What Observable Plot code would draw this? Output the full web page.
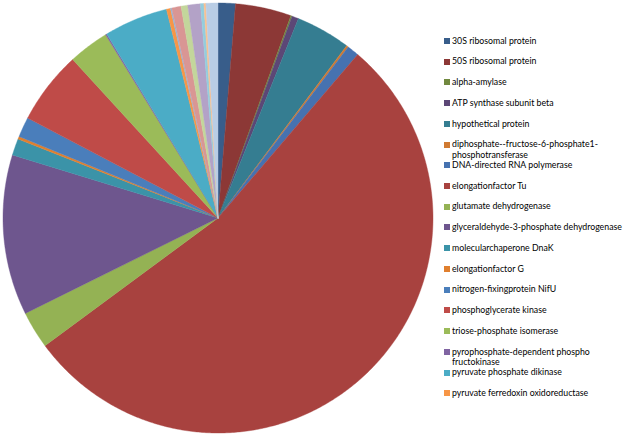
<!DOCTYPE html>
<html>
<head>
<meta charset="utf-8">
<script src="https://cdn.jsdelivr.net/npm/d3@7"></script>
<script src="https://cdn.jsdelivr.net/npm/@observablehq/plot@0.6"></script>
<style>
  html, body { margin: 0; padding: 0; background: #fff; }
  #wrap { position: relative; width: 625px; height: 436px; overflow: hidden; }
  #legend { position: absolute; left: 0; top: 0; font-family: Lato, "Open Sans", sans-serif; color: #000; }
  .item { position: absolute; left: 444px; white-space: nowrap; }
  .sw { position: absolute; left: 0; width: 6px; height: 6px; }
  .lab { position: absolute; left: 8px; top: 0; line-height: 10.6px; }
</style>
</head>
<body>
<div id="wrap"><div id="legend"></div></div>
<script>
// Slice names in drawing order (clockwise from 12 o'clock)
const categories = [
  "30S ribosomal protein",
  "50S ribosomal protein",
  "alpha-amylase",
  "ATP synthase subunit beta",
  "hypothetical protein",
  "diphosphate--fructose-6-phosphate1-phosphotransferase",
  "DNA-directed RNA polymerase",
  "elongationfactor Tu",
  "glutamate dehydrogenase",
  "glyceraldehyde-3-phosphate dehydrogenase",
  "molecularchaperone DnaK",
  "elongationfactor G",
  "nitrogen-fixingprotein NifU",
  "phosphoglycerate kinase",
  "triose-phosphate isomerase",
  "pyrophosphate-dependent phospho fructokinase",
  "pyruvate phosphate dikinase",
  "pyruvate ferredoxin oxidoreductase",
  "item 19", "item 20", "item 21", "item 22", "item 23", "item 24", "item 25"
];
// Estimated shares (%)
const values = [
  1.3, 4.2, 0.1, 0.5, 4.1, 0.15, 0.9, 53.6, 2.8, 12.05, 1.25, 0.2, 1.5,
  5.5, 3.05, 0.1, 4.8, 0.3, 0.1, 0.7, 0.5, 0.95, 0.25, 0.15, 0.9
];
const colors = [
  "#385d8a", "#8c3836", "#71893f", "#5c4776", "#357d91", "#d07a32",
  "#4672b0", "#a8423f", "#94b254", "#6e568e", "#3b93a8", "#e07f2e",
  "#4a7ebb", "#bf4b48", "#9bbb59", "#8064a2", "#4bacc6", "#f79646",
  "#95b3d7", "#d99694", "#c3d69b", "#b3a2c7", "#93cddd", "#fac090", "#b9cde5"
];
// Legend labels (as wrapped in the reference); only the first 18 are shown
const legendLabels = [
  ["30S ribosomal protein"],
  ["50S ribosomal protein"],
  ["alpha-amylase"],
  ["ATP synthase subunit beta"],
  ["hypothetical protein"],
  ["diphosphate--fructose-6-phosphate1-", "phosphotransferase"],
  ["DNA-directed RNA polymerase"],
  ["elongationfactor Tu"],
  ["glutamate dehydrogenase"],
  ["glyceraldehyde-3-phosphate dehydrogenase"],
  ["molecularchaperone DnaK"],
  ["elongationfactor G"],
  ["nitrogen-fixingprotein NifU"],
  ["phosphoglycerate kinase"],
  ["triose-phosphate isomerase"],
  ["pyrophosphate-dependent phospho", "fructokinase"],
  ["pyruvate phosphate dikinase"],
  ["pyruvate ferredoxin oxidoreductase"]
];

const table = categories.map((c, i) => ({name: c, value: values[i]}));
const arcs = d3.pie().value(d => d.value).sort(null).startAngle(0).endAngle(2 * Math.PI)(table);

// Build slice outlines in unit-circle coordinates
const pts = [];
for (const a of arcs) {
  const n = Math.max(2, Math.ceil((a.endAngle - a.startAngle) / (Math.PI / 360)));
  pts.push({name: a.data.name, x: 0, y: 0});
  for (let k = 0; k <= n; k++) {
    const t = a.startAngle + (a.endAngle - a.startAngle) * k / n;
    pts.push({name: a.data.name, x: Math.sin(t), y: Math.cos(t)});
  }
  pts.push({name: a.data.name, x: 0, y: 0});
}

const cx = 217.5, cy = 217.5, r = 215;
const W = 625, H = 436;
const chart = Plot.plot({
  width: W,
  height: H,
  marginLeft: cx - r,
  marginRight: W - (cx + r),
  marginTop: cy - r,
  marginBottom: H - (cy + r),
  x: {domain: [-1, 1], axis: null},
  y: {domain: [-1, 1], axis: null},
  color: {domain: categories, range: colors},
  style: {background: "#fff"},
  marks: [
    Plot.line(pts, {x: "x", y: "y", z: "name", fill: "name", stroke: "name", strokeWidth: 0.4, curve: "linear"})
  ]
});
document.getElementById("wrap").prepend(chart);

// Legend
const legend = document.getElementById("legend");
const longest = "glyceraldehyde-3-phosphate dehydrogenase";
const ctx = document.createElement("canvas").getContext("2d");
ctx.font = "10px Lato";
const fs = Math.min(10.5, 10 * 170 / ctx.measureText(longest).width);
legendLabels.forEach((lines, i) => {
  const yc = 41 + i * 20.72;
  const item = document.createElement("div");
  item.className = "item";
  item.style.top = (yc - 5.3) + "px";
  const sw = document.createElement("div");
  sw.className = "sw";
  sw.style.background = colors[i];
  sw.style.top = "2.3px";
  const lab = document.createElement("div");
  lab.className = "lab";
  lab.style.fontSize = fs + "px";
  lab.innerHTML = lines.join("<br>");
  item.appendChild(sw);
  item.appendChild(lab);
  legend.appendChild(item);
});
</script>
</body>
</html>
